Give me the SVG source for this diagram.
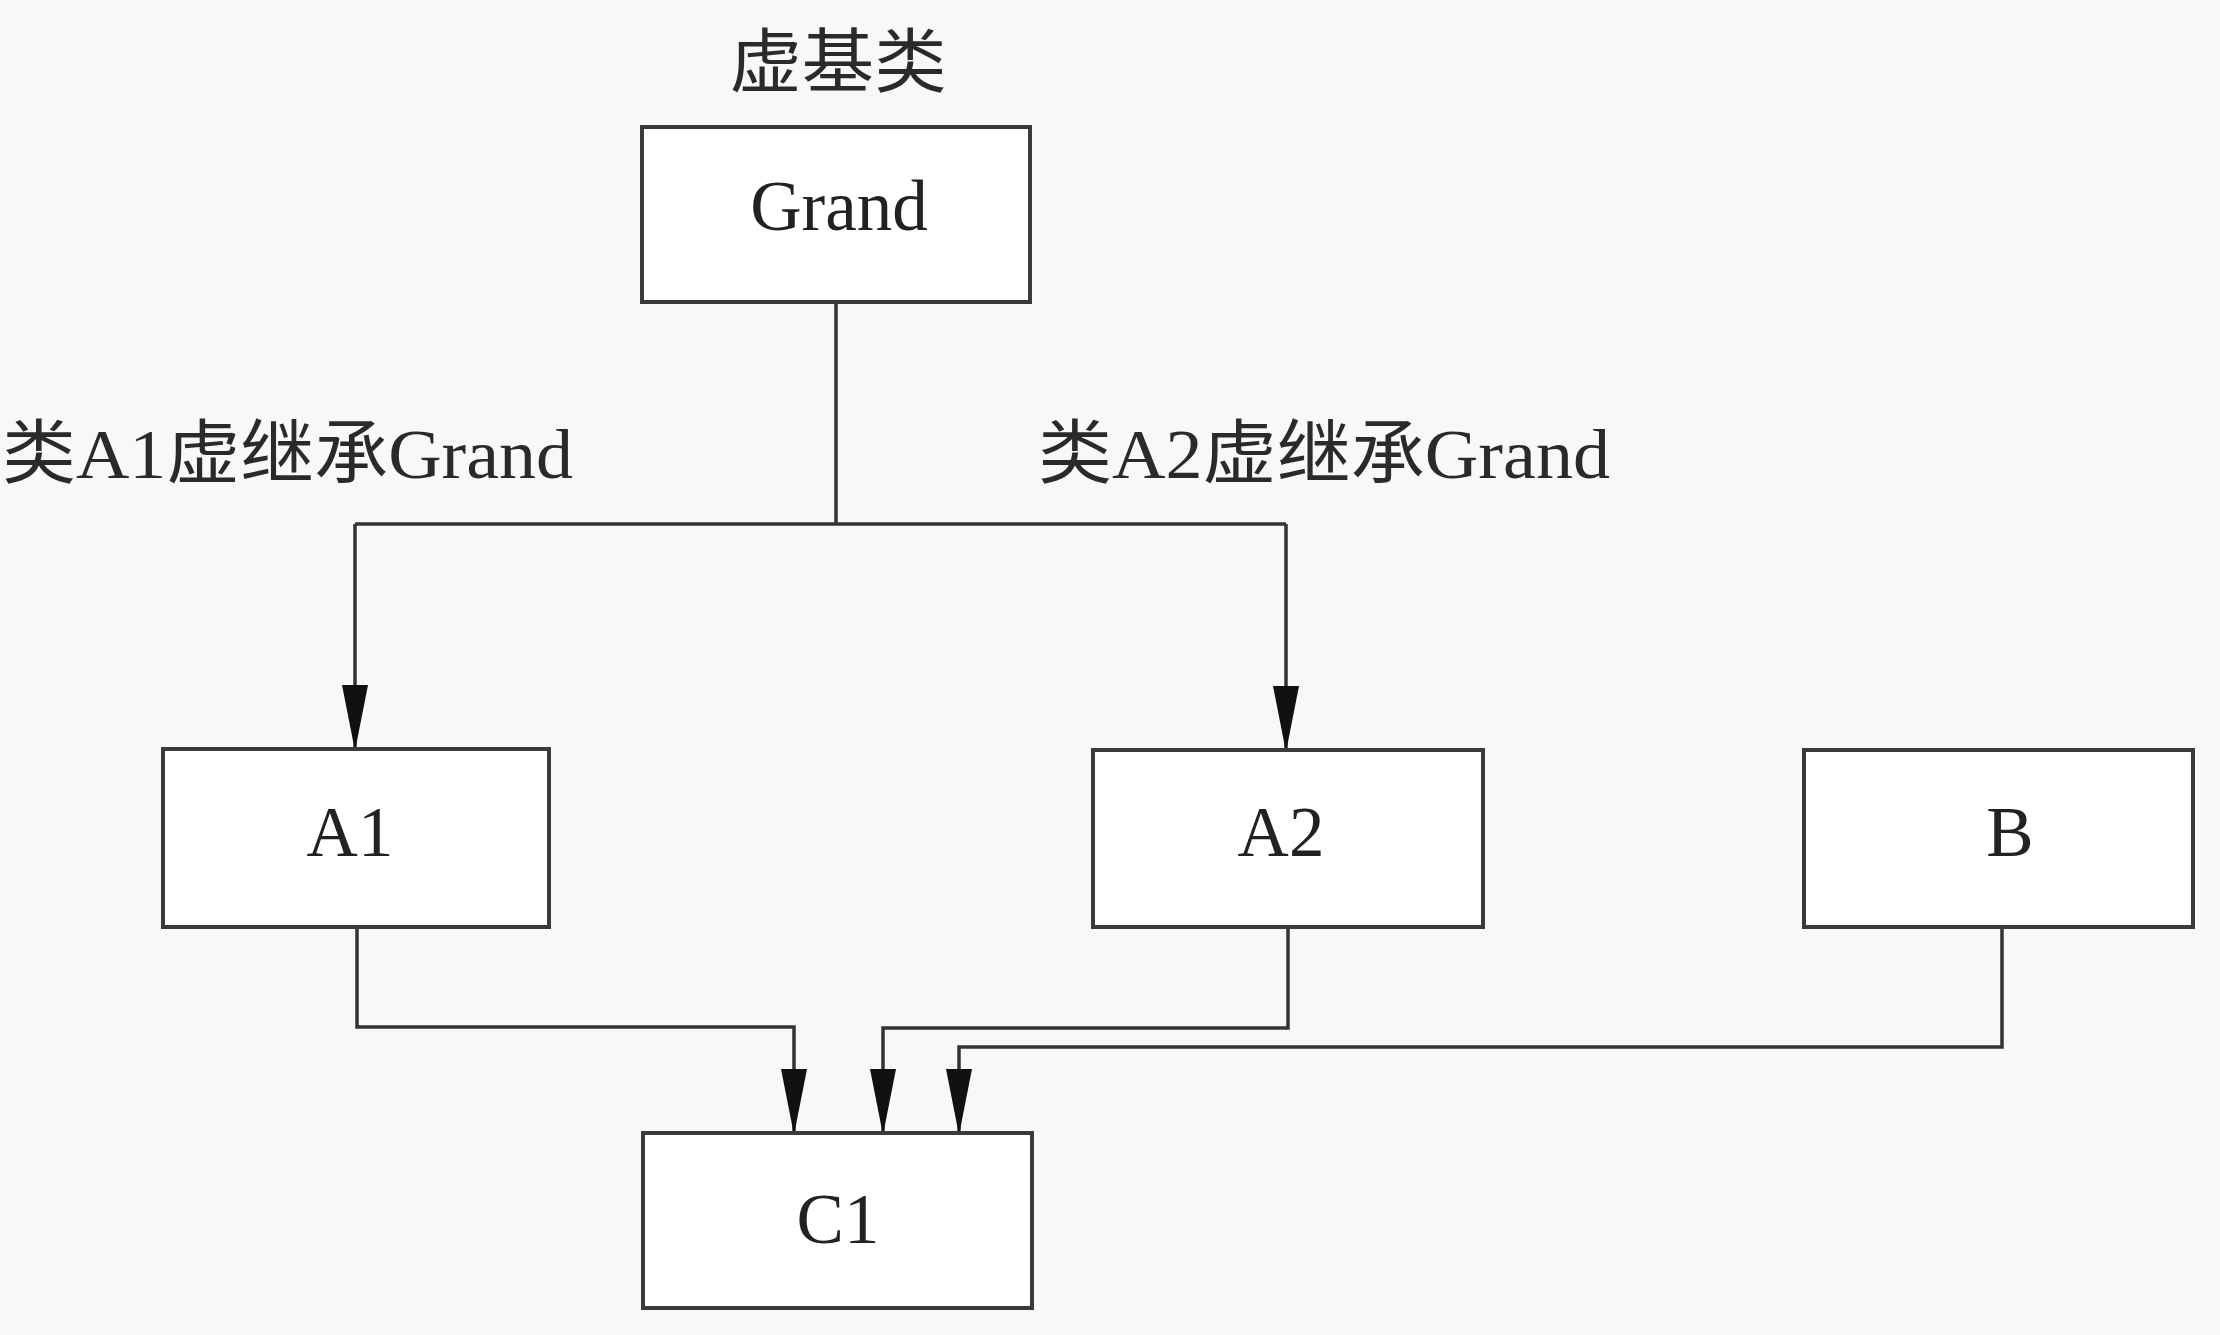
<svg xmlns="http://www.w3.org/2000/svg" width="2220" height="1335" viewBox="0 0 2220 1335">
<style>
.box{fill:#ffffff;stroke:#3a3a3a;stroke-width:4}
.line{fill:none;stroke:#333333;stroke-width:3.5}
.t{font-family:"Liberation Serif","Noto Sans CJK SC",serif;fill:#222222;font-size:71px}
.lbl{font-family:"Liberation Serif","Noto Sans CJK SC",serif;fill:#2a2a2a;font-size:70px}
</style>
<defs>
<marker id="arr" markerUnits="userSpaceOnUse" markerWidth="66" markerHeight="28" refX="64" refY="14" orient="auto">
<path d="M0,1 L66,14 L0,27 z" fill="#111111"/>
</marker>
</defs>
<rect x="0" y="0" width="2220" height="1335" fill="#f8f8f8"/>
<text class="lbl" x="838" y="87" text-anchor="middle" textLength="217" lengthAdjust="spacingAndGlyphs">虚基类</text>
<text class="lbl" x="2" y="478" textLength="571" lengthAdjust="spacingAndGlyphs">类A1虚继承Grand</text>
<text class="lbl" x="1038" y="478" textLength="572" lengthAdjust="spacingAndGlyphs">类A2虚继承Grand</text>
<g id="connectors">
<path class="line" d="M836,302 V524"/>
<path class="line" d="M355,524 H1286"/>
<path class="line" d="M355,524 V749" marker-end="url(#arr)"/>
<path class="line" d="M1286,524 V750" marker-end="url(#arr)"/>
<path class="line" d="M357,927 V1027 H794 V1133" marker-end="url(#arr)"/>
<path class="line" d="M1288,927 V1028 H883 V1133" marker-end="url(#arr)"/>
<path class="line" d="M2002,927 V1047 H959 V1133" marker-end="url(#arr)"/>
</g>
<g id="node-grand">
<rect class="box" x="642" y="127" width="388" height="175"/>
<text class="t" x="839" y="230" text-anchor="middle">Grand</text>
</g>
<g id="node-a1">
<rect class="box" x="163" y="749" width="386" height="178"/>
<text class="t" x="350" y="856" text-anchor="middle">A1</text>
</g>
<g id="node-a2">
<rect class="box" x="1093" y="750" width="390" height="177"/>
<text class="t" x="1281" y="856" text-anchor="middle">A2</text>
</g>
<g id="node-b">
<rect class="box" x="1804" y="750" width="389" height="177"/>
<text class="t" x="2010" y="856" text-anchor="middle">B</text>
</g>
<g id="node-c1">
<rect class="box" x="643" y="1133" width="389" height="175"/>
<text class="t" x="838" y="1243" text-anchor="middle">C1</text>
</g>
</svg>
